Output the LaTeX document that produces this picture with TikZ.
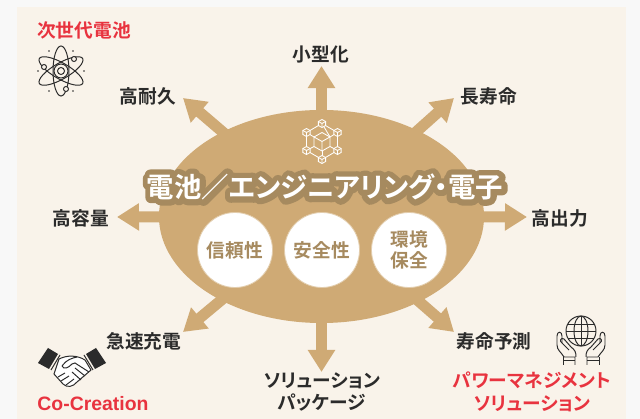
\documentclass[tikz,border=0pt]{standalone}
\usepackage{fontspec}
\usepackage{tikz}
\usetikzlibrary{arrows.meta,shapes.geometric}
\setmainfont{Noto Sans CJK JP}[BoldFont=* Bold, RawFeature=+palt]
\newfontfamily\titleedge{Noto Sans CJK JP Bold}[FakeBold=42, RawFeature=+palt]
\setsansfont{Liberation Sans}
\definecolor{panelbg}{HTML}{F9F3EA}
\definecolor{pagebg}{HTML}{F8F8F8}
\definecolor{coretan}{HTML}{CFAA75}
\definecolor{darktan}{HTML}{A68A5F}
\definecolor{redtext}{HTML}{E8333F}
\definecolor{inktext}{HTML}{2B2B2B}

\begin{document}
\begin{tikzpicture}[
		x=0.025cm, y=-0.025cm,
		core/.style={ellipse, fill=coretan, minimum width=8.125cm, minimum height=5.325cm, inner sep=0pt},
		spoke/.style={-{Triangle[length=0.55cm, width=0.65cm]}, line width=0.275cm, draw=coretan},
		tag/.style={font=\fontsize{13.3}{16}\selectfont\bfseries, text=inktext, align=center},
		redtag/.style={font=\fontsize{13.3}{16}\selectfont\bfseries, text=redtext, align=center},
		valuebox/.style={circle, fill=white, draw=coretan!60, line width=0.6pt, minimum size=1.875cm, inner sep=0pt, align=center,
			font=\fontsize{13.3}{16}\selectfont\bfseries, text=darktan},
		icon/.style={draw=inktext, line width=0.7pt}
	]
		\useasboundingbox (0,0) rectangle (640,419);
		\fill[pagebg] (0,0) rectangle (640,419);
		\fill[panelbg] (17,7) rectangle (626,419);

		% Tips of the arrows
		\coordinate (t1) at (321.5,66);
		\coordinate (t2) at (454,98);
		\coordinate (t3) at (527,217);
		\coordinate (t4) at (454,332);
		\coordinate (t5) at (321.5,372);
		\coordinate (t6) at (183,332);
		\coordinate (t7) at (117,217);
		\coordinate (t8) at (183,98);
		\coordinate (mid) at (321.5,216.5);

		% Arrows
		\foreach \i in {1,...,8}
			\draw[spoke] (mid) -- (t\i);

		% Centre
		\node[core] (centre) at (mid) {};
		\node[valuebox] (v1) at (235,250) {信頼性};
		\node[valuebox] (v2) at (322,250) {安全性};
		\node[valuebox] (v3) at (409,250) {環境\\[-1pt]保全};
		\node[font=\fontsize{19.5}{22}\selectfont\titleedge, text=darktan, line join=round] (edge) at (325,187)
			{電池／エンジニアリング・電子};
		\node[font=\fontsize{19.5}{22}\selectfont\bfseries, text=white] (title) at (325,187)
			{電池／エンジニアリング・電子};

		% Labels
		\node[tag] (small) at (321,54) {小型化};
		\node[tag] (long) at (489,96) {長寿命};
		\node[tag] (power) at (560,218) {高出力};
		\node[tag] (predict) at (494,341) {寿命予測};
		\node[tag] (package) at (322,392) {ソリューション\\パッケージ};
		\node[tag] (fast) at (144,341) {急速充電};
		\node[tag] (capacity) at (81,218) {高容量};
		\node[tag] (durable) at (148,96) {高耐久};
		\node[redtag] (nextgen) at (84,30) {次世代電池};
		\node[redtag, font=\fontsize{13.8}{16}\selectfont\sffamily\bfseries] (cocreate) at (93,404) {Co-Creation};
		\node[redtag] (powersol) at (532,392) {パワーマネジメント\\ソリューション};

		% Atom icon
		\begin{scope}[shift={(61,71)}]
			\draw[icon] (0,0) ellipse [x radius=8, y radius=25];
			\draw[icon, rotate=60] (0,0) ellipse [x radius=8, y radius=25];
			\draw[icon, rotate=-60] (0,0) ellipse [x radius=8, y radius=25];
			\draw[icon] (0,0) circle (3.5) (0,0) circle (7);
			\fill[panelbg, draw=inktext, line width=0.7pt] (13,-12) circle (2.5) (-17,-4) circle (2.5) (5,18) circle (2.5);
			\foreach \px/\py in {-12/-20,12/-20,-23/0,23/0,-12/20,12/20}
				\fill[inktext] (\px,\py) circle (0.9);
		\end{scope}

		% Cube network icon
		\begin{scope}[shift={(322,141.5)}, white, line width=0.6pt]
			\foreach \ax/\ay/\bx/\by in {0/-18/8/-4.5, 15.5/-9/8/-4.5, 15.5/9/8/5, 0/18/0/9.5, -15.5/9/-8/5, -15.5/-9/-8/-4.5, 0/-18/15.5/-9, 15.5/-9/15.5/9, 15.5/9/0/18, 0/18/-15.5/9, -15.5/9/-15.5/-9, -15.5/-9/0/-18}
				\draw (\ax,\ay) -- (\bx,\by);
			\draw (0,-9) -- (8,-4.5) -- (8,5) -- (0,9.5) -- (-8,5) -- (-8,-4.5) -- cycle;
			\draw (-8,-4.5) -- (0,0) -- (8,-4.5) (0,0) -- (0,9.5);
			\foreach \px/\py in {0/-18,15.5/-9,15.5/9,0/18,-15.5/9,-15.5/-9}{
				\begin{scope}[shift={(\px,\py)}]
					\fill[coretan, draw=white] (0,-4) -- (3.6,-2) -- (3.6,2) -- (0,4) -- (-3.6,2) -- (-3.6,-2) -- cycle;
					\draw (-3.6,-2) -- (0,0) -- (3.6,-2) (0,0) -- (0,4);
				\end{scope}
			}
		\end{scope}

		% Handshake icon
		\begin{scope}[shift={(72,368)}]
			\foreach \s in {1,-1}{
				\begin{scope}[xscale=\s]
					\fill[inktext] (-34,-5) -- (-24,-20) -- (-14,-14) -- (-23,1) -- cycle;
					\draw[icon] (-12,-13) -- (-21,2);
				\end{scope}
			}
			\draw[icon, fill=white] (-13,-9) .. controls (-5,-13) and (5,-13) .. (13,-8)
				-- (19,2) -- (5,14) .. controls (1,19) and (-5,20) .. (-9,16) -- (-18,6) -- cycle;
			\draw[icon] (-10,-2) .. controls (-6,-8) and (0,-10) .. (5,-11)
				(-10,-2) .. controls (-8,2) and (-4,0) .. (0,-4) -- (3,-5) -- (17,4)
				(3,0) -- (13,8) (0,4) -- (9,12)
				(-14,9) -- (-7,5) (-11,13) -- (-3,8) (-6,17) -- (2,11);
		\end{scope}

		% Globe in hands icon
		\begin{scope}[shift={(581,331)}]
			\draw[icon] (0,0) circle (15);
			\draw[icon] (0,0) ellipse [x radius=7, y radius=15];
			\draw[icon] (0,-15) -- (0,15) (-15,0) -- (15,0) (-13,-7) -- (13,-7) (-13,7) -- (13,7);
			\foreach \s in {1,-1}{
				\begin{scope}[xscale=\s]
					\draw[icon] (-6,34) -- (-6,26) -- (-17,26)
						.. controls (-20,21) and (-24,19) .. (-24,14) -- (-24,5)
						.. controls (-24,0) and (-19,0) .. (-19,5) -- (-19,12);
					\draw[icon] (-5,26) .. controls (-5,21) and (-6,19) .. (-10,16) -- (-17,8)
						.. controls (-20,6) and (-22,10) .. (-19,12) -- (-12,19);
					\draw[icon] (-18,34) -- (-18,26) (-18,29) -- (-6,29);
				\end{scope}
			}
		\end{scope}
	\end{tikzpicture}
\end{document}
